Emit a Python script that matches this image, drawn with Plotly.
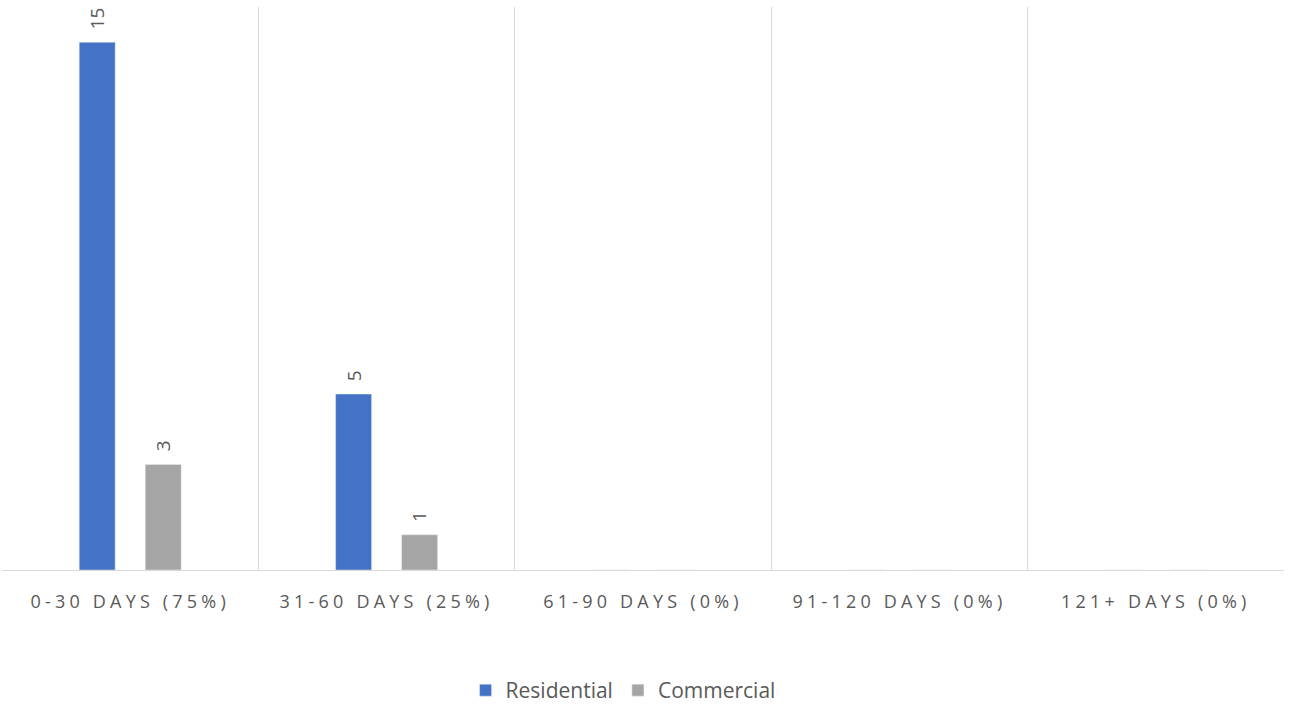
import plotly.graph_objects as go

categories = ["0-30 DAYS (75%)", "31-60 DAYS (25%)", "61-90 DAYS (0%)", "91-120 DAYS (0%)", "121+ DAYS (0%)"]
residential = [15, 5, 0, 0, 0]
commercial = [3, 1, 0, 0, 0]

TEXT_GREY = "#595959"
GRID_GREY = "#D9D9D9"
W, H = 1289, 711
TOP, BASELINE = 7, 570

fig = go.Figure()
fig.add_trace(go.Bar(name="Residential", x=categories, y=residential, marker_color="#4472C4"))
fig.add_trace(go.Bar(name="Commercial", x=categories, y=commercial, marker_color="#A5A5A5"))

# Rotated value labels above the non-zero bars
for values, dx in ((residential, -33), (commercial, 33)):
    for cat, v in zip(categories, values):
        if v:
            fig.add_annotation(
                x=cat, y=v, xref="x", yref="y", text=str(v), showarrow=False,
                textangle=-90, xshift=dx, yshift=11, yanchor="bottom", xanchor="center",
                font=dict(family="Open Sans", size=19, color=TEXT_GREY),
            )

fig.update_layout(
    width=W, height=H,
    margin=dict(l=2, r=5, t=TOP, b=0),
    paper_bgcolor="white", plot_bgcolor="white",
    barmode="group", bargap=0.485, bargroupgap=0.455,
    showlegend=True,
    # legend box sits on the bottom edge of the page
    legend=dict(orientation="h", x=0.3616, xanchor="left", y=0, yanchor="bottom",
                font=dict(family="Open Sans", size=21, color=TEXT_GREY),
                itemwidth=30, traceorder="normal"),
    xaxis=dict(
        type="category", tickson="boundaries", showgrid=True, gridcolor=GRID_GREY, gridwidth=1.3,
        showline=True, linecolor=GRID_GREY, linewidth=1.3, ticks="", automargin=False,
        tickfont=dict(family="Open Sans", size=18, color=TEXT_GREY), ticklabelstandoff=15,
    ),
    yaxis=dict(range=[0, 16], domain=[(H - BASELINE) / (H - TOP), 1],
               showgrid=False, showticklabels=False, zeroline=False, showline=False,
               automargin=False),
)

# Spaced-out category labels
spacing_js = """
var gd = document.getElementById('{plot_id}');
function spaceTicks() {
  gd.querySelectorAll('.xtick text').forEach(function (t) {
    t.style.letterSpacing = '4.2px';
  });
}
spaceTicks();
setTimeout(spaceTicks, 0);
if (gd.on) { gd.on('plotly_afterplot', spaceTicks); }
"""

fig.write_html("out.html", post_script=spacing_js)
